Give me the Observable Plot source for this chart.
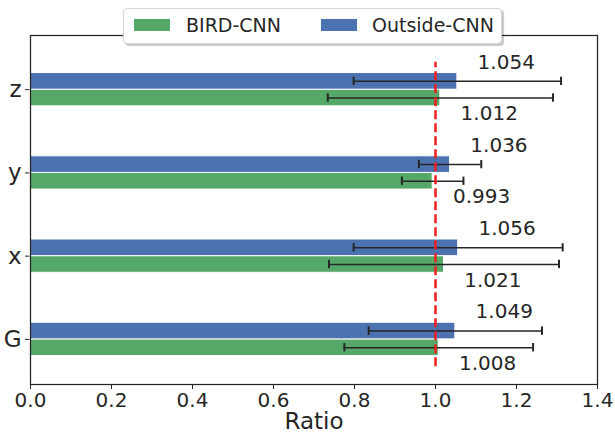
<!DOCTYPE html>
<html><head><meta charset="utf-8">
<script src="https://cdn.jsdelivr.net/npm/d3@7"></script>
<script src="https://cdn.jsdelivr.net/npm/@observablehq/plot@0.6"></script>
<style>
body{margin:0;background:#fff;font-family:"DejaVu Sans",sans-serif;}
#wrap{position:relative;width:615px;height:434px;}
#legend{position:absolute;left:123px;top:8px;width:379px;height:36px;box-sizing:border-box;border:1px solid #d4d4d4;border-radius:4px;background:#fff;box-shadow:2px 2px 1px rgba(0,0,0,0.22);}
.sw{position:absolute;top:10px;width:36px;height:12px;}
.lt{position:absolute;top:4px;font-size:19px;line-height:24px;color:#262626;white-space:nowrap;}
</style></head><body><div id="wrap"></div>
<script>
const categories = ["G", "x", "y", "z"];
const seriesNames = ["BIRD-CNN", "Outside-CNN"];
const seriesColors = ["#55a868", "#4c72b0"];
const birdValues = [1.008, 1.021, 0.993, 1.012];
const birdErrors = [0.233, 0.284, 0.076, 0.278];
const outsideValues = [1.049, 1.056, 1.036, 1.054];
const outsideErrors = [0.214, 0.258, 0.077, 0.256];
const xTicks = [0, 0.2, 0.4, 0.6, 0.8, 1.0, 1.2, 1.4];
const xLabel = "Ratio";
const refValue = 1;

const rows = [];
categories.forEach((c, i) => {
  rows.push({cat: c, i, series: seriesNames[0], value: birdValues[i], err: birdErrors[i], s: 0});
  rows.push({cat: c, i, series: seriesNames[1], value: outsideValues[i], err: outsideErrors[i], s: 1});
});
const yc = d => d.i + (d.s === 0 ? -0.1 : 0.1);
const yl = d => d.i + (d.s === 0 ? -0.29 : 0.33);
const caps = rows.flatMap(d => [{...d, xc: d.value - d.err}, {...d, xc: d.value + d.err}]);

const chart = Plot.plot({
  width: 615, height: 434,
  marginLeft: 30, marginRight: 18, marginTop: 35, marginBottom: 50,
  style: {fontFamily: "DejaVu Sans, sans-serif", fontSize: "20px", color: "#262626", background: "white"},
  x: {domain: [0, 1.4], ticks: xTicks, tickFormat: d3.format(".1f"), label: null, tickSize: 5, tickPadding: 3},
  y: {domain: [-0.542, 3.651], ticks: [0, 1, 2, 3], tickFormat: i => categories[i], label: null, tickSize: 5, tickPadding: 4},
  color: {domain: seriesNames, range: seriesColors},
  marks: [
    Plot.rect(rows, {x1: d => 0, x2: "value", y1: d => yc(d) - 0.1, y2: d => yc(d) + 0.1, fill: "series", stroke: "white", strokeWidth: 1}),
    Plot.ruleY(rows, {y: yc, x1: d => d.value - d.err, x2: d => d.value + d.err, stroke: "#262626", strokeWidth: 1.5}),
    Plot.ruleX(caps, {x: "xc", y1: d => yc(d) - 0.05, y2: d => yc(d) + 0.05, stroke: "#262626", strokeWidth: 2}),
    Plot.ruleX([refValue], {x: d => d, y1: -0.33, y2: 3.33, stroke: "#f01e1e", strokeWidth: 2.5, strokeDasharray: "9,4"}),
    Plot.text(rows, {x: d => d.value + 0.05, y: yl, text: d => d3.format(".3f")(d.value), textAnchor: "start", lineAnchor: "middle", fontSize: 20, fill: "#262626"}),
    Plot.text([xLabel], {frameAnchor: "bottom", text: d => d, dy: 37.5, lineAnchor: "middle", fontSize: 23, fill: "#262626"}),
    Plot.frame({stroke: "#262626", strokeWidth: 1.25})
  ]
});
chart.querySelectorAll('[aria-label^="y-axis"] text').forEach(t => { t.style.fontSize = "23px"; });
const wrap = document.getElementById("wrap");
wrap.appendChild(chart);

const legend = document.createElement("div");
legend.id = "legend";
const swLeft = [10, 197];
const txLeft = [62, 248];
seriesNames.forEach((n, k) => {
  const sw = document.createElement("div");
  sw.className = "sw"; sw.style.left = swLeft[k] + "px"; sw.style.background = seriesColors[k];
  const t = document.createElement("span");
  t.className = "lt"; t.style.left = txLeft[k] + "px"; t.textContent = n;
  legend.appendChild(sw); legend.appendChild(t);
});
wrap.appendChild(legend);
</script></body></html>
